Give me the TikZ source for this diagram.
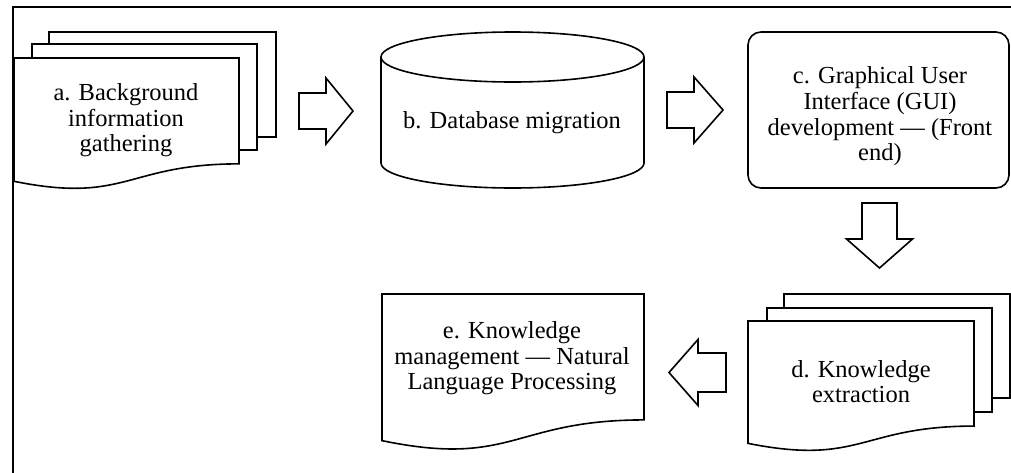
\documentclass[tikz,border=0pt]{standalone}
\usepackage{fontspec}
\setmainfont{Liberation Serif}
\tikzset{
  outl/.style={draw=black, line width=1.6pt, fill=white, line join=miter},
  txt/.style={font=\fontsize{24.5}{25.8}\selectfont, align=center, inner sep=0pt},
  pics/blockarrow/.style n args={3}{code={
    \draw[outl] (0,-#3) -- (#2,-#3) -- (#2,-33) -- (#1,0) -- (#2,33) -- (#2,#3) -- (0,#3) -- cycle;}},
  pics/docpage/.style n args={2}{code={
    \draw[outl] (0,0) -- (#1,0) -- (#1,0.802*#2)
      .. controls (0.5*#1,0.802*#2) and (0.5*#1,1.107*#2) .. (0,0.934*#2) -- cycle;}},
}
\begin{document}
\begin{tikzpicture}[x=1pt,y=-1pt]
\useasboundingbox (0,0) rectangle (1011,472);
% frame
\draw[line width=1.8pt] (13,473) -- (13,7) -- (1012,7);

% a: multi document
\draw[outl] (49,32) rectangle (276,137);
\draw[outl] (32,44) rectangle (257,150);
\pic at (14,58) {docpage={225}{132}};
\node[txt] (a) at (126,120.3) {a. Background\\information\\gathering};

% b: cylinder
\draw[outl] (381,57) -- (381,163) arc[start angle=180, end angle=0, x radius=131.5, y radius=25] -- (644,57);
\draw[outl] (512.5,57) ellipse [x radius=131.5, y radius=25];
\node[txt] (b) at (512,122.3) {b. Database migration};

% c: rounded box
\node[outl, rounded corners=13pt, minimum width=261pt, minimum height=156pt, inner sep=0pt] (cbox) at (878.5,110) {};
\node[txt] (c) at (880,116.4) {c. Graphical User\\Interface (GUI)\\development — (Front\\end)};

% d: multi document
\draw[outl] (784,294) rectangle (1010,398);
\draw[outl] (767,308) rectangle (992,412);
\pic at (748,321) {docpage={226}{131}};
\node[txt] (d) at (861,381.7) {d. Knowledge\\extraction};

% e: document
\pic at (382,294) {docpage={262}{157}};
\node[txt] (e) at (512,358.3) {e. Knowledge\\management — Natural\\Language Processing};

% block arrows
\pic at (299,111) {blockarrow={54}{27}{18}};
\pic at (667,110) {blockarrow={56}{27}{18}};
\pic[rotate=-90] at (879.5,203) {blockarrow={65}{36}{17.5}};
\pic[rotate=180] at (726,372.5) {blockarrow={57}{28}{19.5}};
\end{tikzpicture}
\end{document}
